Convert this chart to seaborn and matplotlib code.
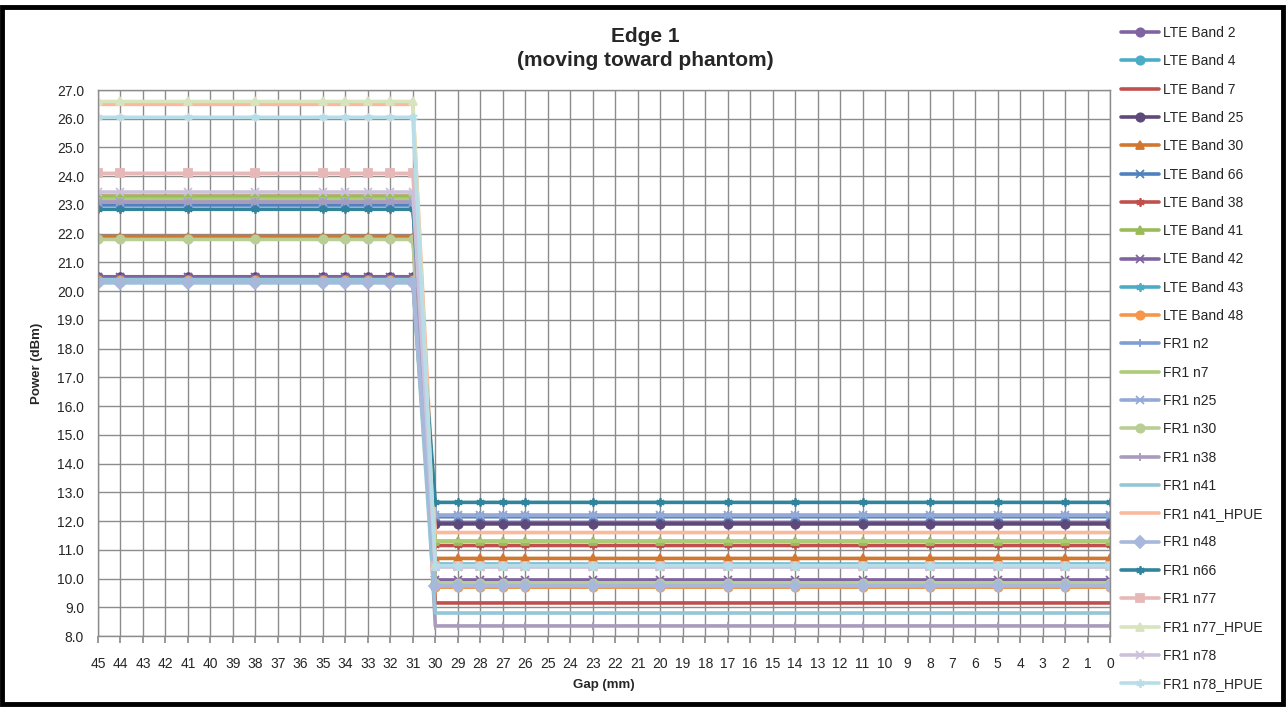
import matplotlib
matplotlib.use("Agg")
import matplotlib.pyplot as plt
import seaborn as sns
import pandas as pd
from matplotlib.patches import Rectangle
from matplotlib.ticker import FormatStrFormatter

# Measured separation distances (mm); the axis runs from 45 down to 0
gaps = [45, 44, 41, 38, 35, 34, 33, 32, 31, 30, 29, 28, 27, 26, 23, 20, 17, 14, 11, 8, 5, 2, 0]
axis_gaps = list(range(45, -1, -1))

bands = ["LTE Band 2", "LTE Band 4", "LTE Band 7", "LTE Band 25", "LTE Band 30",
         "LTE Band 66", "LTE Band 38", "LTE Band 41", "LTE Band 42", "LTE Band 43",
         "LTE Band 48", "FR1 n2", "FR1 n7", "FR1 n25", "FR1 n30", "FR1 n38",
         "FR1 n41", "FR1 n41_HPUE", "FR1 n48", "FR1 n66", "FR1 n77", "FR1 n77_HPUE",
         "FR1 n78", "FR1 n78_HPUE"]

# Output power (dBm) with the device far from the phantom (gap 31-45 mm)
power_far = [20.5, 20.4, 23.2, 20.5, 21.9,
             23.0, 23.3, 23.3, 20.5, 20.3,
             20.4, 23.1, 23.2, 23.1, 21.8, 23.1,
             20.4, 26.5, 20.3, 22.85, 24.1, 26.6,
             23.45, 26.05]
# Output power (dBm) with power back-off applied (gap 0-30 mm)
power_near = [11.95, 10.5, 9.15, 11.9, 10.7,
              12.15, 11.15, 11.3, 9.95, 9.7,
              9.7, 12.2, 11.3, 12.2, 9.85, 8.35,
              8.8, 11.6, 9.75, 12.65, 10.45, 10.45,
              10.4, 10.45]

colors = ["#8064A2", "#4BACC6", "#C0504D", "#5F497A", "#D2772F",
          "#4F81BD", "#C0504D", "#9BBB59", "#8064A2", "#4BACC6",
          "#F79646", "#7F9ED4", "#AECB78", "#95A9D6", "#B8CE95", "#A99BBD",
          "#93C6D6", "#F9B99A", "#A8B8DA", "#31849B", "#E6B9B8", "#D7E4BD",
          "#CCC1DA", "#B7DEE8"]
ASTER = (6, 2, 0)
markers = ["o", "o", None, "o", "^",
           "x", ASTER, "^", "x", ASTER,
           "o", "|", None, "x", "o", "|",
           None, None, "D", ASTER, "s", "^",
           "x", ASTER]

rows = []
for band, hi, lo in zip(bands, power_far, power_near):
    for g in gaps:
        rows.append({"band": band, "gap": g, "power": hi if g >= 31 else lo})
df = pd.DataFrame(rows)

sns.set_theme(style="white")
plt.rcParams["font.family"] = ["Liberation Sans Narrow", "Liberation Sans", "DejaVu Sans"]

fig = plt.figure(figsize=(12.87, 7.07), dpi=100)
ax = fig.add_axes([98 / 1287, 1 - 636 / 707, 1012 / 1287, 546 / 707])

for band, c, m in zip(bands, colors, markers):
    sub = df[df["band"] == band]
    sns.lineplot(data=sub, x="gap", y="power", ax=ax, color=c, linewidth=2.6,
                 marker=m if m is not None else "", markersize=6,
                 markeredgecolor=c, markeredgewidth=1.3, label=band,
                 sort=False, estimator=None)

ax.set_xlim(45, 0)
ax.set_ylim(8.0, 27.0)
ax.set_xticks(axis_gaps)
ax.set_xticklabels([str(g) for g in axis_gaps])
ax.set_yticks([8.0 + i for i in range(20)])
ax.yaxis.set_major_formatter(FormatStrFormatter("%.1f"))
ax.grid(True, color="#8C8C8C", linewidth=1.0)
ax.set_axisbelow(True)
for s in ax.spines.values():
    s.set_color("#8C8C8C")
    s.set_linewidth(1.0)
ax.tick_params(axis="x", length=5, color="#8C8C8C", labelsize=10, pad=10, bottom=True)
ax.tick_params(axis="y", length=0, labelsize=10, pad=10)

ax.set_xlabel("Gap (mm)", fontsize=9.5, fontweight="bold", labelpad=6)
ax.set_ylabel("Power (dBm)", fontsize=9.5, fontweight="bold", labelpad=10)

fig.text(645 / 1287, 1 - 37 / 707, "Edge 1", ha="center", va="center",
         fontsize=15, fontweight="bold")
fig.text(645 / 1287, 1 - 60 / 707, "(moving toward phantom)", ha="center", va="center",
         fontsize=15, fontweight="bold")

handles, labels = ax.get_legend_handles_labels()
ax.get_legend().remove()
fig.legend(handles, labels, loc="upper left", bbox_to_anchor=(1121 / 1287, 1 - 26 / 707),
           frameon=False, fontsize=10, labelspacing=1.03, handlelength=2.7,
           handletextpad=0.35, borderaxespad=0, borderpad=0)

fig.patches.append(Rectangle((2 / 1287, 3 / 707), 1281 / 1287, 697 / 707,
                             transform=fig.transFigure, fill=False,
                             edgecolor="black", linewidth=3.5))

fig.savefig("out.png", dpi=100)
